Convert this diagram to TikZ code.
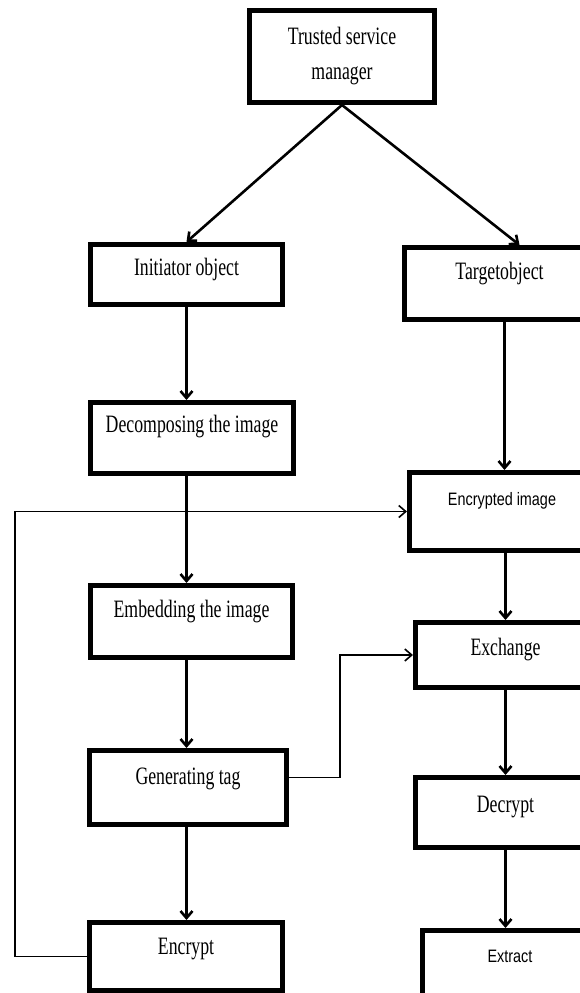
\documentclass[tikz,border=0pt]{standalone}
\usepackage{fontspec}
\usetikzlibrary{arrows.meta}
\newfontfamily\flowserif[FakeStretch=0.71]{Liberation Serif}
\newfontfamily\flowsans[FakeStretch=0.8]{Liberation Sans}

\begin{document}
\begin{tikzpicture}[x=1pt, y=-1pt, >={Straight Barb[length=7pt,width=12pt]},
    procbox/.style={draw, line width=5pt, inner sep=0pt, anchor=north west,
                    font=\flowserif\fontsize{25}{35}\selectfont},
    sansbox/.style={procbox, font=\flowsans\fontsize{18}{22}\selectfont},
    flow/.style={->, line width=2.6pt},
    backflow/.style={->, line width=1.6pt}]
  \useasboundingbox (0,0) rectangle (579,993);

  % Top
  \node[procbox, minimum width=185pt, minimum height=92pt, align=center]
    (tsm) at (247,8) {Trusted service\\manager};

  % Left column
  \node[procbox, minimum width=192pt, text height=31pt, text depth=29pt]
    (init) at (88,242) {Initiator object};
  \node[procbox, minimum width=203pt, text height=30pt, text depth=41pt]
    (decomp) at (88,400) {Decomposing the image};
  \node[procbox, minimum width=202pt, text height=32pt, text depth=40pt]
    (embed) at (88,583) {Embedding the image};
  \node[procbox, minimum width=197pt, text height=34pt, text depth=40pt]
    (gentag) at (87,748) {Generating tag};
  \node[procbox, minimum width=193pt, text height=32pt, text depth=36pt]
    (encrypt) at (87,920) {Encrypt};

  % Right column
  \node[procbox, minimum width=190pt, text height=32pt, text depth=40pt]
    (target) at (402,245) {Targetobject};
  \node[sansbox, minimum width=185pt, text height=33pt, text depth=45pt]
    (encimg) at (407,470) {Encrypted image};
  \node[procbox, minimum width=180pt, text height=33pt, text depth=32pt]
    (exch) at (413,620) {Exchange};
  \node[procbox, minimum width=180pt, text height=35pt, text depth=35pt]
    (decrypt) at (413,775) {Decrypt};
  \node[sansbox, minimum width=175pt, text height=32pt, text depth=45pt]
    (extract) at (420,928) {Extract};

  \coordinate (loopx) at (15,0);
  \coordinate (tagx) at (340,0);

  % Connectors
  \draw[flow] (tsm.south) -- (init.north);
  \draw[flow] (tsm.south) -- ([xshift=20pt]target.north);
  \draw[flow] (init.south) -- (init.south |- decomp.north);
  \draw[flow] (decomp.south -| init.south) -- (embed.north -| init.south);
  \draw[flow] (embed.south -| init.south) -- (gentag.north -| init.south);
  \draw[flow] (gentag.south -| init.south) -- (encrypt.north -| init.south);
  \draw[flow] ([xshift=5pt]target.south) -- ([xshift=5pt]target.south |- encimg.north);
  \draw[flow] (encimg.south -| exch.north) -- (exch.north);
  \draw[flow] (exch.south) -- (decrypt.north);
  \draw[flow] (decrypt.south) -- (decrypt.south |- extract.north);
  \draw[backflow] (encrypt.west) -- (encrypt.west -| loopx) |- (encimg.west);
  \draw[backflow] ([yshift=10pt]gentag.east) -- ([yshift=10pt]gentag.east -| tagx)
    |- (exch.west);
\end{tikzpicture}
\end{document}
